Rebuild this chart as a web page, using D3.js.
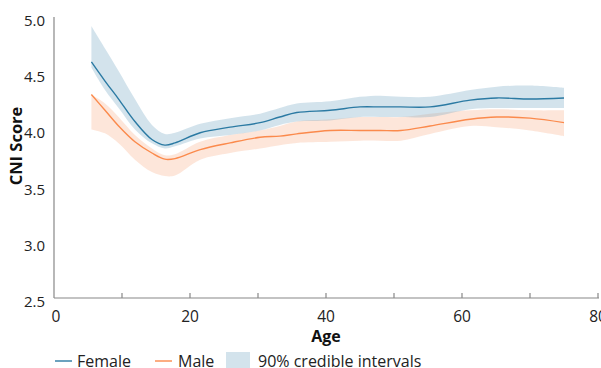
<!DOCTYPE html>
<html><head><meta charset="utf-8">
<script src="https://cdn.jsdelivr.net/npm/d3@7"></script>
<style>body{margin:0;background:#fff;} svg{display:block;font-family:"Open Sans",sans-serif;}</style>
</head><body><svg id="c" width="601" height="368"></svg>
<script>
const ages = [5.5, 7.5, 9.5, 11.9, 14.4, 16.3, 17.8, 21.5, 25.9, 30.3, 33.2, 35.7, 40.6, 45, 48, 51, 55.3, 61.2, 65.1, 70, 75];
const femaleMean = [4.60, 4.43, 4.27, 4.07, 3.91, 3.86, 3.88, 3.97, 4.02, 4.06, 4.11, 4.15, 4.17, 4.20, 4.20, 4.20, 4.20, 4.26, 4.28, 4.27, 4.28];
const femaleUpper = [4.92, 4.72, 4.52, 4.27, 4.04, 3.96, 3.97, 4.05, 4.10, 4.14, 4.19, 4.23, 4.25, 4.29, 4.30, 4.29, 4.29, 4.35, 4.38, 4.39, 4.37];
const femaleLower = [4.55, 4.35, 4.19, 4.0, 3.876, 3.83, 3.85, 3.92, 3.95, 3.99, 4.04, 4.07, 4.08, 4.11, 4.11, 4.11, 4.11, 4.18, 4.19, 4.19, 4.19];
const maleMean = [4.31, 4.17, 4.03, 3.89, 3.79, 3.735, 3.74, 3.82, 3.88, 3.93, 3.94, 3.96, 3.99, 3.99, 3.99, 3.99, 4.03, 4.09, 4.11, 4.10, 4.06];
const maleUpper = [4.31, 4.23, 4.11, 3.95, 3.83, 3.77, 3.78, 3.89, 3.95, 3.99, 4.03, 4.07, 4.09, 4.11, 4.11, 4.11, 4.14, 4.17, 4.18, 4.17, 4.17];
const maleLower = [4.0, 3.965, 3.876, 3.73, 3.62, 3.585, 3.59, 3.73, 3.79, 3.83, 3.86, 3.88, 3.89, 3.90, 3.90, 3.90, 3.96, 4.03, 4.02, 3.99, 3.94];
const xTicks = [0, 10, 20, 30, 40, 50, 60, 70, 80];
const xTickLabels = [0, 20, 40, 60, 80];
const yTicks = [2.5, 3.0, 3.5, 4.0, 4.5, 5.0];
const legendLabels = ["Female", "Male", "90% credible intervals"];

const svg = d3.select("#c");
const x = d3.scaleLinear().domain([0, 80]).range([54, 598]);
const y = d3.scaleLinear().domain([2.5, 5.0]).range([298, 17]);

const blue = "#2b7aa3", orange = "#fb8a4c";
const curve = d3.curveCatmullRom.alpha(0.5);

function band(lo, hi, fill, op) {
  const area = d3.area().x((d, i) => x(ages[i])).y0((d, i) => y(lo[i])).y1((d, i) => y(hi[i])).curve(curve);
  svg.append("path").attr("d", area(ages)).attr("fill", fill).attr("fill-opacity", op);
}
band(maleLower, maleUpper, "#f99a6c", 0.25);
band(femaleLower, femaleUpper, "#7aa9c4", 0.33);

function line(vals, color) {
  const l = d3.line().x((d, i) => x(ages[i])).y((d, i) => y(vals[i])).curve(curve);
  svg.append("path").attr("d", l(ages)).attr("fill", "none").attr("stroke", color).attr("stroke-width", 1.4);
}
line(femaleMean, blue);
line(maleMean, orange);

// axes
const axisColor = "#888";
svg.append("line").attr("x1", x(0)).attr("x2", x(0)).attr("y1", y(5.0)).attr("y2", y(2.5)).attr("stroke", axisColor).attr("stroke-width", 1.2);
svg.append("line").attr("x1", x(0)).attr("x2", x(80) + 1).attr("y1", y(2.5)).attr("y2", y(2.5)).attr("stroke", axisColor).attr("stroke-width", 1.2);
svg.selectAll(".xt").data(xTicks.filter(t => t > 0)).enter().append("line")
  .attr("x1", d => x(d)).attr("x2", d => x(d)).attr("y1", y(2.5)).attr("y2", y(2.5) - 5)
  .attr("stroke", axisColor).attr("stroke-width", 1.2);
svg.selectAll(".xl").data(xTickLabels).enter().append("text")
  .attr("x", d => x(d) + (d === 0 ? 2 : 0)).attr("y", 322).attr("text-anchor", "middle")
  .attr("font-size", 15.5).attr("fill", "#222").text(d => d);
svg.selectAll(".yl").data(yTicks).enter().append("text")
  .attr("x", 45).attr("y", d => y(d) + 9).attr("text-anchor", "end")
  .attr("font-size", 15).attr("fill", "#222").text(d => d.toFixed(1));

svg.append("text").attr("x", 326).attr("y", 342).attr("text-anchor", "middle")
  .attr("font-size", 16).attr("font-weight", "bold").attr("fill", "#111").text("Age");
svg.append("text").attr("transform", "translate(22,146) rotate(-90)").attr("text-anchor", "middle")
  .attr("font-size", 16.5).attr("font-weight", "bold").attr("fill", "#111").text("CNI Score");

// legend
const ly = 361;
svg.append("line").attr("x1", 55).attr("x2", 72).attr("y1", ly).attr("y2", ly).attr("stroke", blue).attr("stroke-width", 1.4);
svg.append("text").attr("x", 77).attr("y", ly + 6).attr("font-size", 16).attr("fill", "#222").text(legendLabels[0]);
svg.append("line").attr("x1", 155).attr("x2", 172).attr("y1", ly).attr("y2", ly).attr("stroke", orange).attr("stroke-width", 1.4);
svg.append("text").attr("x", 178).attr("y", ly + 6).attr("font-size", 16).attr("fill", "#222").text(legendLabels[1]);
svg.append("rect").attr("x", 226).attr("y", 352).attr("width", 24).attr("height", 16).attr("fill", "#7aa9c4").attr("fill-opacity", 0.33);
svg.append("text").attr("x", 258).attr("y", ly + 6).attr("font-size", 16).attr("fill", "#222").text(legendLabels[2]);
</script></body></html>
